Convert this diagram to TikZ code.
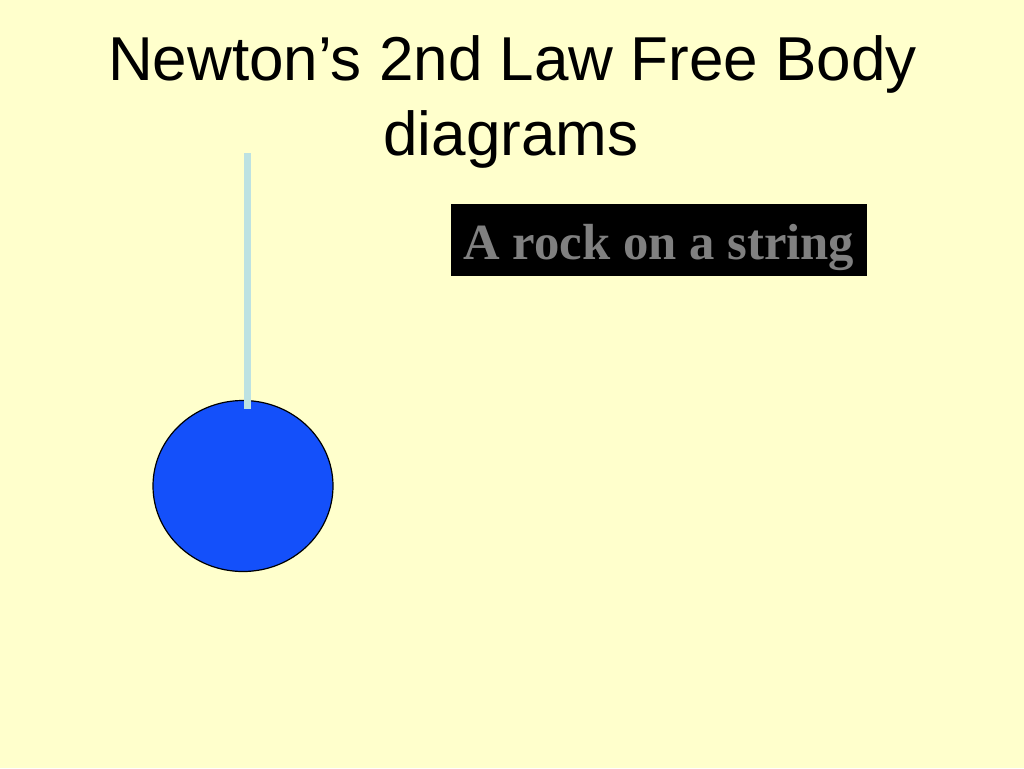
\documentclass[tikz,border=0pt]{standalone}
\usepackage{fontspec}
\setmainfont{Liberation Serif}
\newfontfamily\titlefont{Liberation Sans}
\usetikzlibrary{shapes.geometric}

\definecolor{slideyellow}{HTML}{FFFFCC}
\definecolor{rockblue}{HTML}{1450FA}
\definecolor{stringblue}{HTML}{BDE2E2}
\definecolor{labelgray}{HTML}{808080}

\begin{document}
\begin{tikzpicture}[x=1pt,y=-1pt,
	title/.style={anchor=base,inner sep=0pt,font=\titlefont\fontsize{62}{62}\selectfont},
	rock/.style={ellipse,draw=black,line width=1.2pt,fill=rockblue,inner sep=0pt,minimum width=180pt,minimum height=171pt},
	string/.style={stringblue,line width=6.5pt},
	caption/.style={fill=black,text=labelgray,inner sep=0pt,font=\bfseries\fontsize{50.7}{50.7}\selectfont,
		minimum width=416pt,text height=55pt,text depth=16.7pt}]
	
	\fill [slideyellow] (0,0) rectangle (1024,768);
	\useasboundingbox (0,0) rectangle (1024,768);
	
	\node [title] (line1) at (512.5,80) {Newton’s 2nd Law Free Body};
	\node [title] (line2) at (511,155) {diagrams};
	
	\node [caption,anchor=base] (label) at (659,259.3) {A rock on a string};
	
	\node [rock] (stone) at (243,486) {};
	
	\coordinate (hook) at (247.5,153);
	\coordinate (knot) at (247.5,409);
	\draw [string] (hook) -- (knot);
	
\end{tikzpicture}
\end{document}
